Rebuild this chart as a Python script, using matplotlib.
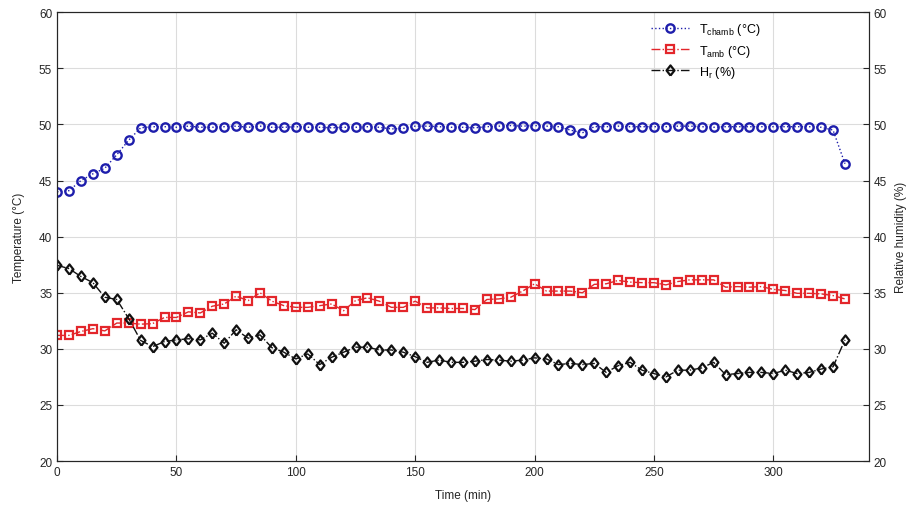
import matplotlib
matplotlib.use('Agg')
import matplotlib.pyplot as plt
import numpy as np

plt.rcParams['font.family'] = ['Liberation Sans', 'DejaVu Sans']
plt.rcParams['mathtext.fontset'] = 'custom'
plt.rcParams['mathtext.rm'] = 'Liberation Sans'

# time axis (min), one reading every 5 minutes
time_min = list(range(0, 335, 5))

t_chamb = [44.0, 44.1, 45.0, 45.6, 46.1, 47.3, 48.6, 49.7, 49.8, 49.8,
           49.75, 49.85, 49.75, 49.75, 49.8, 49.85, 49.75, 49.85, 49.75, 49.75,
           49.8, 49.75, 49.75, 49.7, 49.75, 49.75, 49.8, 49.75, 49.6, 49.65,
           49.85, 49.85, 49.8, 49.75, 49.75, 49.7, 49.8, 49.85, 49.9, 49.85,
           49.9, 49.85, 49.8, 49.5, 49.25, 49.8, 49.8, 49.85, 49.8, 49.8,
           49.8, 49.8, 49.85, 49.85, 49.8, 49.75, 49.8, 49.8, 49.8, 49.8,
           49.8, 49.8, 49.8, 49.8, 49.75, 49.5, 46.5]

t_amb = [31.2, 31.2, 31.55, 31.8, 31.6, 32.3, 32.3, 32.2, 32.25, 32.8,
         32.8, 33.3, 33.2, 33.8, 34.0, 34.7, 34.3, 35.0, 34.25, 33.85,
         33.7, 33.7, 33.85, 34.0, 33.4, 34.3, 34.55, 34.25, 33.7, 33.7,
         34.25, 33.65, 33.65, 33.6, 33.6, 33.5, 34.4, 34.45, 34.6, 35.15,
         35.8, 35.15, 35.15, 35.15, 35.0, 35.75, 35.8, 36.1, 35.95, 35.9,
         35.9, 35.7, 36.0, 36.15, 36.15, 36.15, 35.5, 35.55, 35.5, 35.55,
         35.3, 35.2, 34.95, 34.95, 34.9, 34.75, 34.45]

h_rel = [37.45, 37.15, 36.45, 35.9, 34.6, 34.4, 32.7, 30.75, 30.2, 30.65,
         30.8, 30.9, 30.8, 31.4, 30.5, 31.7, 30.95, 31.25, 30.1, 29.7,
         29.1, 29.55, 28.6, 29.25, 29.7, 30.15, 30.15, 29.9, 29.9, 29.7,
         29.3, 28.8, 29.0, 28.8, 28.8, 28.9, 29.05, 29.0, 28.9, 29.0,
         29.2, 29.1, 28.6, 28.7, 28.6, 28.7, 27.9, 28.5, 28.8, 28.1,
         27.8, 27.5, 28.1, 28.1, 28.3, 28.8, 27.7, 27.8, 27.9, 27.9,
         27.8, 28.1, 27.8, 27.9, 28.2, 28.4, 30.8]

fig = plt.figure(figsize=(9.06, 5.10), dpi=100)
ax = fig.add_axes([0.063, 0.094, 0.896, 0.880])
ax2 = ax.twinx()

blue = '#1e1eac'
red = '#e3262b'
black = '#111111'
diamond = [(0, -1), (0.78, 0), (0, 1), (-0.78, 0), (0, -1)]

l1, = ax.plot(time_min, t_chamb, linestyle=':', linewidth=1.0, color=blue,
              marker='o', markersize=6.0, markeredgewidth=1.7,
              markerfacecolor='none', markeredgecolor=blue,
              label=r'T$_{\mathregular{chamb}}$ (°C)')
l2, = ax.plot(time_min, t_amb, linestyle='-.', linewidth=1.0, color=red,
              marker='s', markersize=5.4, markeredgewidth=1.6,
              markerfacecolor='none', markeredgecolor=red,
              label=r'T$_{\mathregular{amb}}$ (°C)')
l3, = ax2.plot(time_min, h_rel, linestyle='-.', linewidth=1.0, color=black,
               marker=diamond, markersize=7.3, markeredgewidth=1.6,
               markerfacecolor='none', markeredgecolor=black,
               label=r'H$_{\mathregular{r}}$ (%)')

for a in (ax, ax2):
    a.set_xlim(0, 340)
    a.set_ylim(20, 60)
    a.set_yticks(np.arange(20, 61, 5))
    a.tick_params(direction='in', length=4, width=0.8, labelsize=8.5,
                  colors='#262626')
    for sp in a.spines.values():
        sp.set_color('#262626')
        sp.set_linewidth(0.8)

ax.set_xticks(np.arange(0, 301, 50))
ax.grid(True, color='#dcdcdc', linewidth=0.8)
ax.set_axisbelow(True)

ax.set_xlabel('Time (min)', fontsize=8.5, color='#262626', labelpad=8)
ax.set_ylabel('Temperature (°C)', fontsize=8.5, color='#262626', labelpad=10)
ax2.set_ylabel('Relative humidity (%)', fontsize=8.5, color='#262626',
               labelpad=6)

ax2.legend(handles=[l1, l2, l3], loc='upper left',
           bbox_to_anchor=(0.718, 1.005), frameon=False, fontsize=9,
           handlelength=3.0, labelspacing=0.42)

fig.savefig('out.png', dpi=100)
